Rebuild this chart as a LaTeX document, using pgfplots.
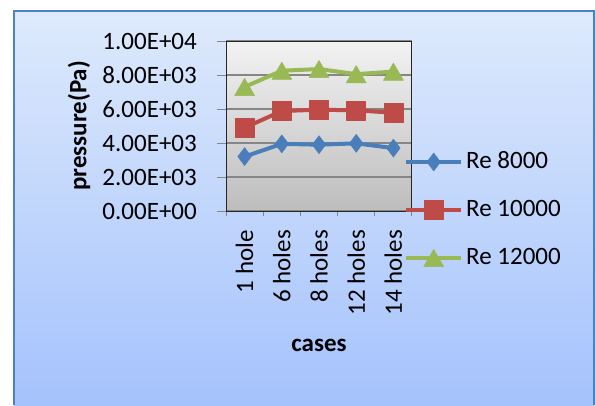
\documentclass[border=0pt]{standalone}
\usepackage{pgfplots}
\pgfplotsset{compat=1.18}
\usepackage{fontspec}
\setmainfont{Carlito}

\definecolor{s1}{HTML}{4A7EBB}
\definecolor{s2}{HTML}{BE4B48}
\definecolor{s3}{HTML}{98B954}
\definecolor{frameTop}{HTML}{DEEAFC}
\definecolor{frameBot}{HTML}{A4C2FC}
\definecolor{frameLine}{HTML}{4F81BD}
\definecolor{plotTop}{HTML}{F2F2F2}
\definecolor{plotBot}{HTML}{BDBDBD}
\definecolor{gridc}{HTML}{868686}

\begin{document}
\begin{tikzpicture}[x=1pt,y=1pt]
\useasboundingbox (0,0) rectangle (595,405);
\fill[white] (0,0) rectangle (595,405);
\shade[top color=frameTop, bottom color=frameBot] (14,0) rectangle (594,394);
\draw[frameLine, line width=1.5pt] (14,0) -- (14,394) -- (594,394) -- (594,0);

\begin{axis}[
  at={(226pt,194pt)}, anchor=south west,
  scale only axis, width=186pt, height=170pt,
  xmin=-0.5, xmax=4.5, ymin=0, ymax=10000,
  scaled y ticks=false,
  axis background/.style={shade, top color=plotTop, bottom color=plotBot},
  axis line style={draw=black!85, line width=1pt},
  xtick={0,1,2,3,4},
  xticklabels={1 hole, 6 holes, 8 holes, 12 holes, 14 holes},
  x tick label style={yshift=-10pt, rotate=90, anchor=east, inner sep=0pt, font=\fontsize{25}{28}\selectfont},
  major x tick style={draw=none},
  minor xtick={-0.5,0.5,1.5,2.5,3.5,4.5},
  minor x tick style={draw=gridc, line width=1pt},
  minor tick length=5pt,
  ytick={0,2000,4000,6000,8000,10000},
  yticklabels={0.00E+00, 2.00E+03, 4.00E+03, 6.00E+03, 8.00E+03, 1.00E+04},
  y tick label style={inner sep=0pt, xshift=-20pt, font=\fontsize{25}{28}\selectfont},
  major y tick style={draw=gridc, line width=1pt},
  major tick length=9pt,
  tick align=outside,
  tick pos=left,
  ymajorgrids,
  major grid style={draw=gridc, line width=1.2pt},
  ylabel={\textbf{pressure(Pa)}},
  ylabel style={at={(axis description cs:-0.79,0.5)}, anchor=center, font=\fontsize{25}{28}\selectfont},
  xlabel={\textbf{cases}},
  xlabel style={at={(axis description cs:0.5,-0.79)}, anchor=center, font=\fontsize{25}{28}\selectfont},
  legend style={at={(axis description cs:0.957,0.006)}, anchor=west,
    draw=none, fill=none, inner sep=0pt, row sep=25pt,
    font=\fontsize{25}{28}\selectfont,
    nodes={inner sep=0pt, text height=18pt, text depth=5pt}},
  legend cell align=left,
  legend image code/.code={\draw[mark repeat=2,mark phase=2,#1] plot coordinates {(0pt,0pt) (27.5pt,0pt) (55pt,0pt)};},
  every axis plot/.append style={line width=4pt, line join=round},
  clip=false,
]
\addplot[s1, mark=diamond*, mark size=9pt, mark options={solid, line width=0.5pt}]
  coordinates {(0,3200) (1,3950) (2,3900) (3,3980) (4,3700)};
\addlegendentry{\hspace{3pt}Re 8000}
\addplot[s2, mark=square*, mark size=9.5pt, mark options={solid, line width=0.5pt}]
  coordinates {(0,4900) (1,5880) (2,5960) (3,5920) (4,5780)};
\addlegendentry{\hspace{3pt}Re 10000}
\addplot[s3, mark=triangle*, mark size=11.5pt, mark options={solid, line width=0.5pt, yshift=-2.9pt}]
  coordinates {(0,7300) (1,8250) (2,8350) (3,8050) (4,8200)};
\addlegendentry{\hspace{3pt}Re 12000}
\end{axis}
\end{tikzpicture}
\end{document}
